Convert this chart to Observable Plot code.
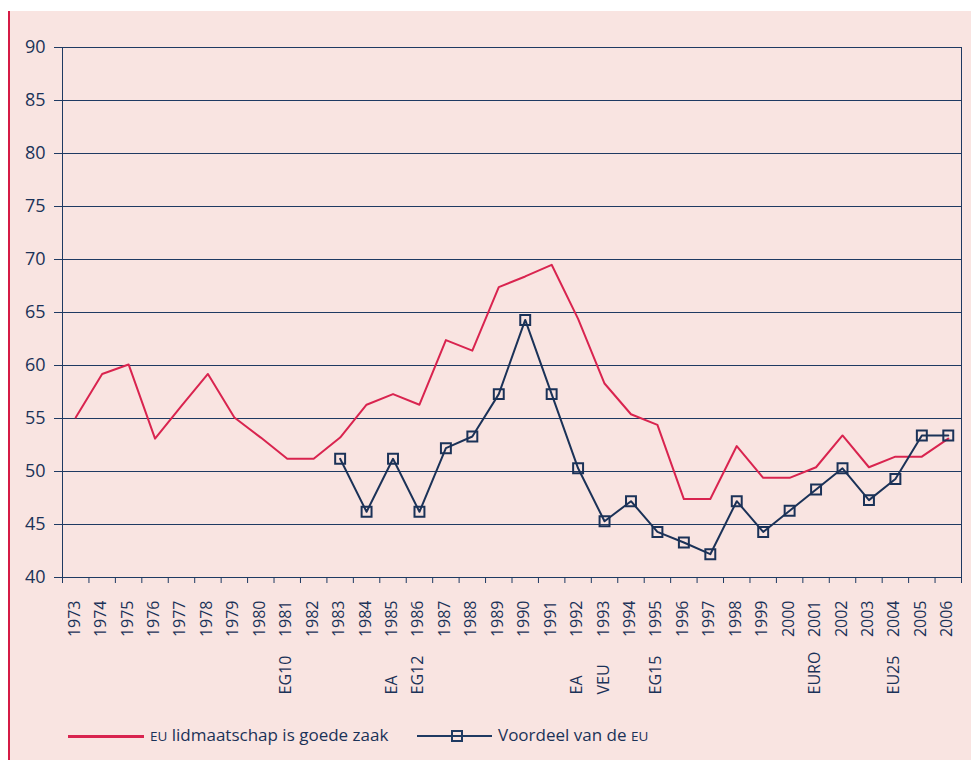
<!DOCTYPE html>
<html><head><meta charset="utf-8">
<script src="https://cdn.jsdelivr.net/npm/d3@7"></script>
<script src="https://cdn.jsdelivr.net/npm/@observablehq/plot@0.6"></script>
<style>
html,body{margin:0;padding:0;background:#fff;width:971px;height:760px;overflow:hidden;font-family:"Open Sans",sans-serif;}
#panel{position:absolute;left:8px;top:11px;width:963px;height:749px;background:#f9e4e1;border-left:2px solid #d51b45;box-sizing:border-box;}
#chart{position:absolute;left:0;top:0;}
.lg{position:absolute;color:#1b3258;font-size:17px;line-height:20px;white-space:nowrap;}
.sc{font-size:13.5px;}
</style></head>
<body>
<div id="panel"></div>
<div id="chart"></div>
<div style="position:absolute;left:68px;top:735px;width:76px;height:2.5px;background:#d9244f"></div>
<div class="lg" style="left:150px;top:725px"><span class="sc">EU</span> lidmaatschap is goede zaak</div>
<div style="position:absolute;left:417px;top:735px;width:75px;height:2px;background:#1f3a62"></div>
<div style="position:absolute;left:451px;top:730px;width:8px;height:8px;border:2px solid #1f3a62;"></div>
<div class="lg" style="left:498px;top:725px">Voordeel van de <span class="sc">EU</span></div>
<script>
const years = [1973,1974,1975,1976,1977,1978,1979,1980,1981,1982,1983,1984,1985,1986,1987,1988,1989,1990,1991,1992,1993,1994,1995,1996,1997,1998,1999,2000,2001,2002,2003,2004,2005,2006];
const lidmaatschap = [55.1,59.2,60.1,53.1,56.2,59.2,55.1,53.2,51.2,51.2,53.2,56.3,57.3,56.3,62.4,61.4,67.4,68.4,69.5,64.4,58.3,55.4,54.4,47.4,47.4,52.4,49.4,49.4,50.4,53.4,50.4,51.4,51.4,53.1];
const voordeelYears = [1983,1984,1985,1986,1987,1988,1989,1990,1991,1992,1993,1994,1995,1996,1997,1998,1999,2000,2001,2002,2003,2004,2005,2006];
const voordeel = [51.2,46.2,51.2,46.2,52.2,53.3,57.3,64.3,57.3,50.3,45.3,47.2,44.3,43.3,42.2,47.2,44.3,46.3,48.3,50.3,47.3,49.3,53.4,53.4];
const eventYears = [1981,1985,1986,1992,1993,1995,2001,2004];
const eventLabels = ["EG10","EA","EG12","EA","VEU","EG15","EURO","EU25"];
const yTicks = [40,45,50,55,60,65,70,75,80,85,90];

const navy = "#1b3258";
const red = "#d9244f";
const redData = years.map((y,i)=>({year:y, value:lidmaatschap[i]}));
const blueData = voordeelYears.map((y,i)=>({year:y, value:voordeel[i]}));
const events = eventYears.map((y,i)=>({year:y, label:eventLabels[i]}));
const xMin = years[0]-0.5, xMax = years[years.length-1]+0.5;
const boundaries = d3.range(xMin, xMax+0.01, 1);

const plot = Plot.plot({
  width: 971, height: 705,
  marginTop: 47, marginLeft: 62, marginRight: 10, marginBottom: 128,
  style: {background: "transparent", fontFamily: "Open Sans, sans-serif", color: navy},
  x: {domain: [xMin, xMax], axis: null},
  y: {domain: [40, 90], axis: null},
  marks: [
    Plot.ruleY(yTicks, {stroke: "#1f3a62", strokeWidth: 1}),
    Plot.ruleX([xMin, xMax], {y1: 40, y2: 90, stroke: "#1f3a62", strokeWidth: 1}),
    Plot.axisX(boundaries, {tickSize: 6, tickFormat: () => "", stroke: "#1f3a62", label: null}),
    Plot.axisY(yTicks, {tickSize: 8, tickPadding: 9, fontSize: 18, fill: navy, stroke: "#1f3a62", label: null}),
    Plot.line(redData, {x: "year", y: "value", stroke: red, strokeWidth: 2}),
    Plot.line(blueData, {x: "year", y: "value", stroke: navy, strokeWidth: 2}),
    Plot.dot(blueData, {x: "year", y: "value", symbol: "square", r: 5.6, stroke: navy, strokeWidth: 2, fill: "none"}),
    Plot.text(years, {x: d => d, text: d => String(d), frameAnchor: "bottom", rotate: -90, textAnchor: "end", dy: 23, dx: 4, fontSize: 16, fill: navy}),
    Plot.text(events, {x: "year", text: "label", frameAnchor: "bottom", rotate: -90, textAnchor: "start", dy: 117, dx: 4, fontSize: 16, fill: navy})
  ]
});
document.getElementById("chart").appendChild(plot);
</script>
</body></html>
